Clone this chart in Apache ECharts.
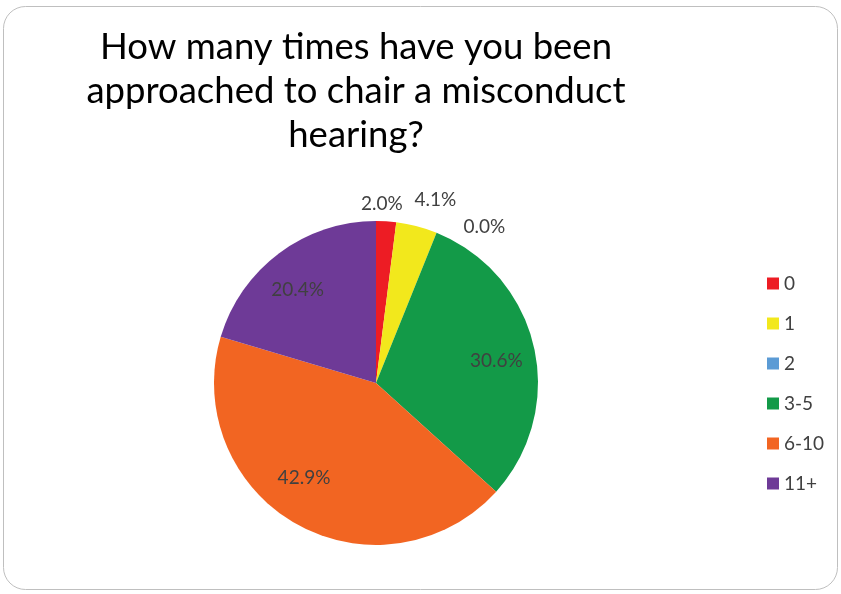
<!DOCTYPE html>
<html><head><meta charset="utf-8">
<script src="https://cdn.jsdelivr.net/npm/echarts@6/dist/echarts.min.js"></script>
<style>html,body{margin:0;padding:0;background:#fff}#c{width:841px;height:594px}</style>
</head><body><div id="c"></div>
<script>
const categories = ['0', '1', '2', '3-5', '6-10', '11+'];
const percents = [2.0, 4.1, 0.0, 30.6, 42.9, 20.4];
const colors = ['#ED1C24', '#F2E81C', '#5B9BD5', '#139A48', '#F26522', '#6E3A97'];
const titleText = 'How many times have you been\napproached to chair a misconduct\nhearing?';

const FONT = 'Lato';
const labelOffsets = { '0': [-6, 9], '1': [12, -1], '2': [38, 18], '3-5': [-1, 6], '6-10': [-11, -14], '11+': [-4, 7] };

const baseData = categories.map((c, i) => ({ name: c, value: percents[i], itemStyle: { color: colors[i] } }));
const innerData = categories.map((c, i) => ({
  name: c, value: percents[i],
  label: { show: percents[i] >= 10, offset: labelOffsets[c] }
}));
const outerData = categories.map((c, i) => ({
  name: c, value: percents[i],
  label: { show: percents[i] < 10, offset: labelOffsets[c] }
}));

const chart = echarts.init(document.getElementById('c'), null, { renderer: 'canvas' });
const labelStyle = { color: '#404040', fontFamily: FONT, fontSize: 19, formatter: p => p.value.toFixed(1) + '%' };
chart.setOption({
  animation: false,
  backgroundColor: '#fff',
  graphic: [{
    type: 'rect', shape: { x: 3.5, y: 6.5, width: 834, height: 583, r: 22 },
    style: { fill: 'none', stroke: '#BFBFBF', lineWidth: 1 }, silent: true, z: -1
  }],
  title: {
    text: titleText, left: 351, top: 20, textAlign: 'center',
    textStyle: { fontFamily: FONT, fontSize: 36.5, fontWeight: 'normal', color: '#000', lineHeight: 44 }
  },
  legend: {
    orient: 'vertical', left: 762, top: 269,
    itemWidth: 12, itemHeight: 12, itemGap: 21,
    icon: 'rect',
    data: categories,
    textStyle: { fontFamily: FONT, fontSize: 19, lineHeight: 19, color: '#404040' }
  },
  series: [
    {
      type: 'pie', center: [376, 383], radius: [0, 162], startAngle: 90, clockwise: true,
      data: baseData, label: { show: false }, labelLine: { show: false }, silent: true,
      itemStyle: { borderWidth: 0 }, avoidLabelOverlap: false
    },
    {
      type: 'pie', center: [376, 383], radius: [81, 162], startAngle: 90, clockwise: true,
      data: innerData, silent: true, legendHoverLink: false,
      itemStyle: { color: 'transparent', borderWidth: 0 },
      label: Object.assign({ position: 'inside' }, labelStyle), labelLine: { show: false },
      avoidLabelOverlap: false, emphasis: { disabled: true }
    },
    {
      type: 'pie', center: [376, 383], radius: [170, 200], startAngle: 90, clockwise: true,
      data: outerData, silent: true, legendHoverLink: false,
      itemStyle: { color: 'transparent', borderWidth: 0 },
      label: Object.assign({ position: 'inside' }, labelStyle), labelLine: { show: false },
      avoidLabelOverlap: false, emphasis: { disabled: true }
    }
  ]
});
</script></body></html>
